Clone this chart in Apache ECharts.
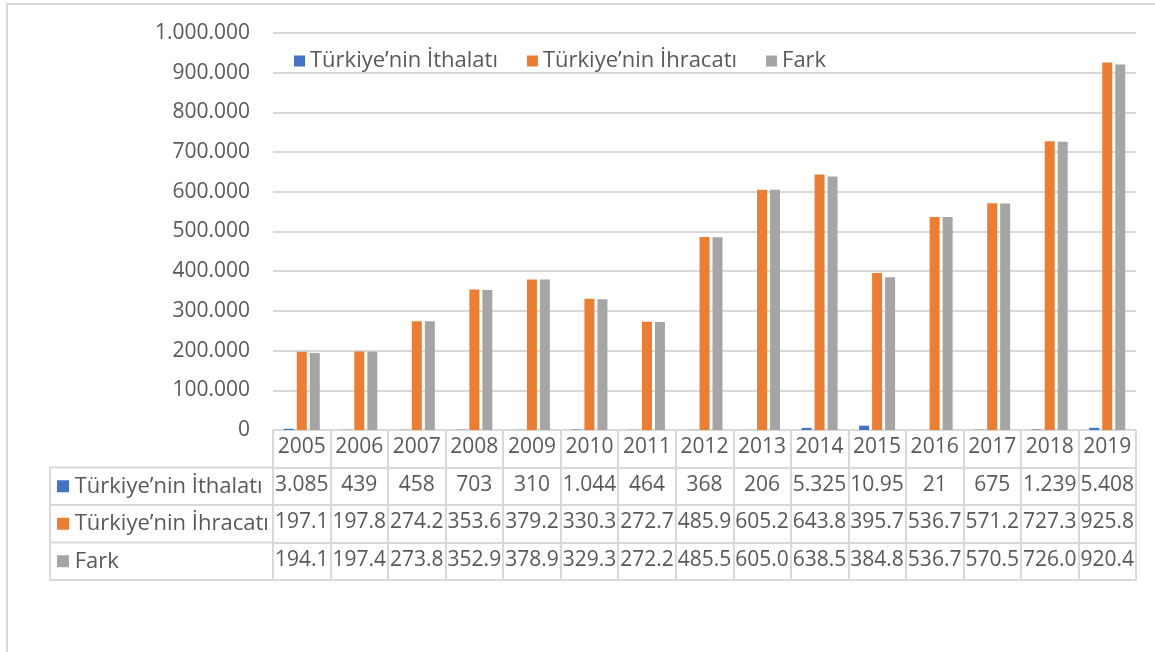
<!DOCTYPE html>
<html>
<head>
<meta charset="utf-8">
<script src="https://cdn.jsdelivr.net/npm/echarts@6/dist/echarts.min.js"></script>
<style>
  html, body { margin: 0; padding: 0; background: #fff; }
  #chart-container { width: 1155px; height: 652px; }
</style>
</head>
<body>
<div id="chart-container"></div>
<script>
var years = ["2005", "2006", "2007", "2008", "2009", "2010", "2011", "2012", "2013", "2014", "2015", "2016", "2017", "2018", "2019"];
var seriesNames = ["Türkiye’nin İthalatı", "Türkiye’nin İhracatı", "Fark"];
var ithalat = [3085, 439, 458, 703, 310, 1044, 464, 368, 206, 5325, 10950, 21, 675, 1239, 5408];
var ihracat = [197100, 197800, 274200, 353600, 379200, 330300, 272700, 485900, 605200, 643800, 395700, 536700, 571200, 727300, 925800];
var fark = [194100, 197400, 273800, 352900, 378900, 329300, 272200, 485500, 605000, 638500, 384800, 536700, 570500, 726000, 920400];
var colors = ["#4472C4", "#ED7D31", "#A5A5A5"];

var textColor = "#595959";
var lineColor = "#d9d9d9";
var font = "Open Sans";
var numSize = 21;
var textSize = 22;

// thousands with dots, like the excel sheet
function fmt(v) {
  return String(v).replace(/\B(?=(\d{3})+(?!\d))/g, ".");
}
// table cells are narrow, excel cuts the text off
function cell(v) {
  return fmt(v).slice(0, 5);
}

var dom = document.getElementById("chart-container");
var myChart = echarts.init(dom, null, { renderer: "canvas" });

var tableRows = [ithalat, ihracat, fark];
var rowOffsets = [37.5, 75, 112.5];

var xAxes = [
  {
    type: "category", gridIndex: 0, data: years, position: "bottom",
    axisLine: { show: false }, axisTick: { show: false },
    axisLabel: { interval: 0, margin: 7, color: textColor, fontSize: numSize, fontFamily: font }
  }
];
tableRows.forEach(function (row, r) {
  xAxes.push({
    type: "category", gridIndex: 0, data: years, position: "bottom", offset: rowOffsets[r],
    axisLine: { show: false }, axisTick: { show: false },
    axisLabel: {
      interval: 0, margin: 7, color: textColor, fontSize: numSize, fontFamily: font,
      formatter: function (v, i) { return cell(row[i]); }
    }
  });
});
// table lines
xAxes.push({
  type: "category", gridIndex: 1, data: years, position: "bottom",
  axisLine: { show: true, lineStyle: { color: lineColor, width: 2 } },
  axisTick: { show: false }, axisLabel: { show: false },
  splitLine: { show: true, interval: 0, lineStyle: { color: lineColor, width: 2 } }
});

var option = {
  color: colors,
  textStyle: { fontFamily: font },
  legend: {
    data: seriesNames,
    top: 45, left: 289,
    icon: "rect", itemWidth: 11, itemHeight: 11, itemGap: 29,
    textStyle: { color: textColor, fontSize: textSize, fontFamily: font }
  },
  grid: [
    { left: 273, right: 19, top: 33, bottom: 222 },
    { left: 273, right: 19, top: 430, bottom: 72 }
  ],
  xAxis: xAxes,
  yAxis: [
    {
      type: "value", gridIndex: 0, min: 0, max: 1000000, interval: 100000,
      axisLine: { show: false }, axisTick: { show: false },
      axisLabel: { margin: 23, color: textColor, fontSize: numSize, fontFamily: font, formatter: fmt },
      splitLine: { lineStyle: { color: lineColor, width: 2 } }
    },
    {
      type: "category", gridIndex: 1, inverse: true,
      data: ["", seriesNames[0], seriesNames[1], seriesNames[2]],
      axisLine: { show: true, lineStyle: { color: lineColor, width: 2 } },
      axisTick: { show: false },
      axisLabel: {
        interval: 0, align: "left", margin: 216, color: textColor, fontSize: textSize, fontFamily: font,
        formatter: function (v, i) {
          if (!v) return "";
          return "{m" + (i - 1) + "|}" + " " + v;
        },
        rich: {
          m0: { width: 12, height: 12, backgroundColor: colors[0] },
          m1: { width: 12, height: 12, backgroundColor: colors[1] },
          m2: { width: 12, height: 12, backgroundColor: colors[2] }
        }
      },
      splitLine: { show: true, interval: 0, lineStyle: { color: lineColor, width: 2 } }
    }
  ],
  graphic: [
    // outer frame
    { type: "rect", shape: { x: 7, y: 4, width: 1160, height: 660 }, style: { fill: null, stroke: lineColor, lineWidth: 2 }, silent: true },
    // left column of the table
    { type: "polyline", shape: { points: [[273, 467.5], [50, 467.5], [50, 580], [273, 580]] }, style: { fill: null, stroke: lineColor, lineWidth: 2 }, silent: true },
    { type: "line", shape: { x1: 50, y1: 505, x2: 273, y2: 505 }, style: { stroke: lineColor, lineWidth: 2 }, silent: true },
    { type: "line", shape: { x1: 50, y1: 542.5, x2: 273, y2: 542.5 }, style: { stroke: lineColor, lineWidth: 2 }, silent: true }
  ],
  series: [
    { name: seriesNames[0], type: "bar", xAxisIndex: 0, yAxisIndex: 0, data: ithalat, barWidth: 10, barGap: "30%" },
    { name: seriesNames[1], type: "bar", xAxisIndex: 0, yAxisIndex: 0, data: ihracat, barWidth: 10, barGap: "30%" },
    { name: seriesNames[2], type: "bar", xAxisIndex: 0, yAxisIndex: 0, data: fark, barWidth: 10, barGap: "30%" }
  ]
};

if (option && typeof option === "object") {
  myChart.setOption(option);
}
</script>
</body>
</html>
